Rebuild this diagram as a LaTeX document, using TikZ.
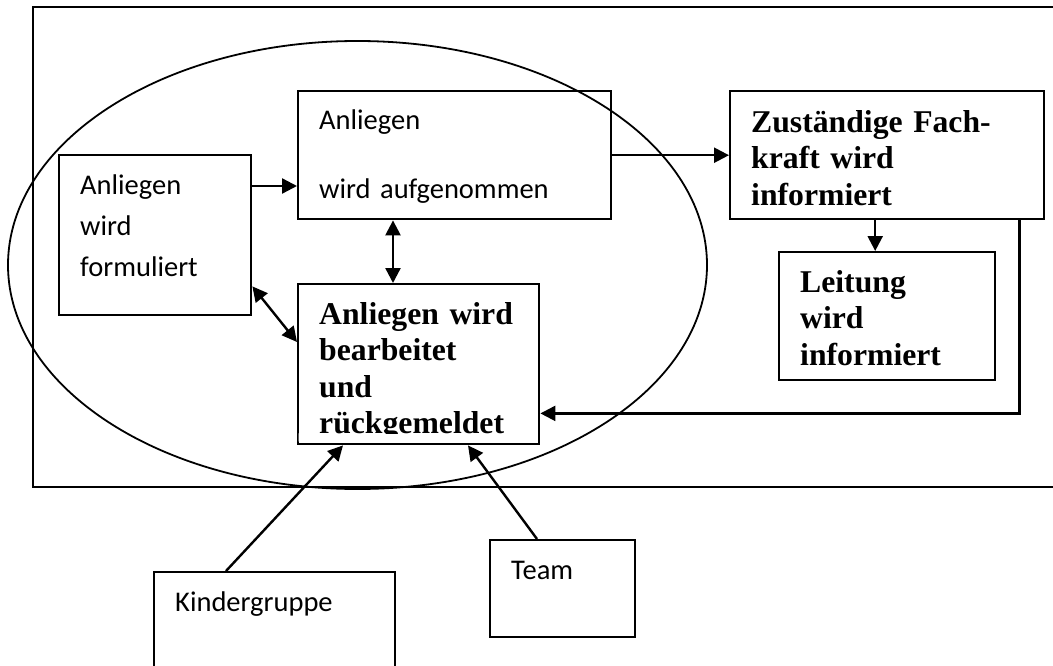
\documentclass[tikz,border=0pt]{standalone}
\usepackage{fontspec}
\setmainfont{Carlito}
\newfontfamily\timesfont{Liberation Serif}
\usetikzlibrary{positioning,arrows.meta}

\begin{document}
\begin{tikzpicture} [x=1pt, y=-1pt, line width=2.4pt,
                    pfeil/.style={-{Triangle[length=15pt,width=15pt]}},
                    doppelpfeil/.style={{Triangle[length=15pt,width=15pt]}-{Triangle[length=15pt,width=15pt]}},
                    kasten/.style={draw,rectangle,anchor=north west,align=left,inner xsep=21pt,inner ysep=0pt,
                                   font=\fontsize{28.5}{41}\selectfont},
                    fett/.style={kasten,font=\timesfont\bfseries\fontsize{31.7}{36.5}\selectfont}]

\useasboundingbox (0,0) rectangle (1053,666);
\clip (0,0) rectangle (1053,666);

% Rahmen und Oval
\draw (33,7) rectangle (1080,487);
\draw[line width=1.8pt] (357.5,265) ellipse [x radius=349.5, y radius=224];

\node[kasten, text width=150pt, text height=39pt, text depth=121pt] (form) at (58,154) {Anliegen\\ wird\\ formuliert};
\node[kasten, text width=271pt, text height=38pt, text depth=90pt] (aufg) at (297,90) {Anliegen\\[28pt] wird aufgenommen};
\begin{scope}
  \clip (0,0) -- (1053,0) -- (1053,666) -- (0,666) -- cycle
        (298.5,433) -- (298.5,441.5) -- (536.5,441.5) -- (536.5,433) -- cycle;
  \node[fett, text width=199pt, text height=40pt, text depth=120pt] (bearb) at (297,283) {Anliegen wird\\ bearbeitet\\ und\\ rückgemeldet};
\end{scope}
\node[fett, text width=272pt, text height=41pt, text depth=87pt] (fach) at (729,90) {Zuständige Fach-\\ kraft wird\\ informiert};
\node[fett, text width=174pt, text height=40pt, text depth=88pt] (leit) at (778,251) {Leitung\\ wird\\ informiert};
\node[kasten, text width=199pt, text height=39pt, text depth=130pt] (kind) at (153,571) {Kindergruppe};
\node[kasten, text width=103pt, text height=39pt, text depth=58pt] (team) at (489,539) {Team};

% Verbindungen
\draw[pfeil] ([yshift=-32pt]form.north east) -- ([yshift=-32pt]form.north east -| aufg.west);
\draw[pfeil] (aufg) -- (fach);
\draw[pfeil] ([xshift=-12pt]fach.south) -- ([xshift=-12pt]fach.south |- leit.north);
\draw[pfeil] ([xshift=-26pt]fach.south east) |- ([yshift=32pt]bearb.south east);
\draw[doppelpfeil] ([xshift=96pt]aufg.south west) -- ([xshift=96pt]bearb.north west);
\draw[doppelpfeil] ([yshift=30pt]form.south east) -- ([yshift=-59pt]bearb.north west);
\draw[pfeil] ([xshift=73pt]kind.north west) -- ([xshift=46pt]bearb.south west);
\draw[pfeil] ([xshift=48pt]team.north west) -- ([xshift=171pt]bearb.south west);
\end{tikzpicture}
\end{document}
